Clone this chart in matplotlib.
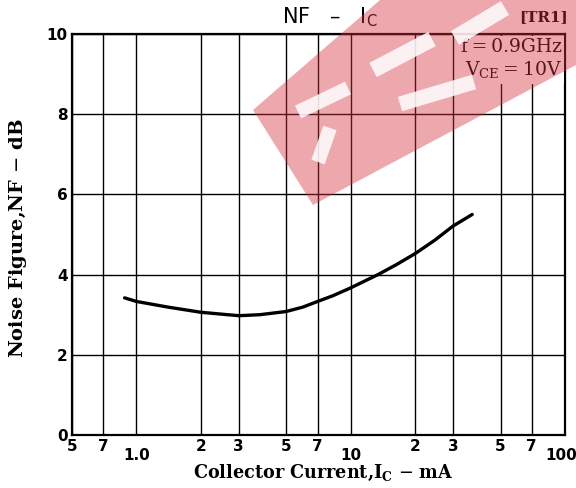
import numpy as np
import matplotlib
matplotlib.use('Agg')
import matplotlib.pyplot as plt
from matplotlib.patches import Polygon
from matplotlib.transforms import ScaledTranslation
from matplotlib.ticker import NullLocator

# NF vs Ic curve
ic = [0.88, 1.0, 1.40, 2.0, 3.0, 3.76, 5.0, 5.98, 7.0, 8.27, 10.0, 13.4, 16.35, 20.0, 24.7, 30.0, 36.9]
nf = [3.42, 3.33, 3.19, 3.06, 2.975, 3.0, 3.08, 3.19, 3.33, 3.475, 3.67, 4.0, 4.25, 4.525, 4.86, 5.21, 5.50]

xticks = [0.5, 0.7, 1, 2, 3, 5, 7, 10, 20, 30, 50, 70, 100]
xlabels = ['5', '7', '1.0', '2', '3', '5', '7', '10', '2', '3', '5', '7', '100']
yticks = [0, 2, 4, 6, 8, 10]

W, H = 576, 488
fig = plt.figure(figsize=(W / 100, H / 100), dpi=100)
ax = fig.add_axes([72 / W, 1 - 435 / H, 493 / W, 401 / H])

ax.set_xscale('log')
ax.set_xlim(0.5, 100)
ax.set_ylim(0, 10)
ax.set_xticks(xticks, xlabels)
ax.xaxis.set_minor_locator(NullLocator())
ax.set_yticks(yticks)
ax.tick_params(length=0, labelsize=11, pad=3)
for lab in ax.get_xticklabels() + ax.get_yticklabels():
    lab.set_fontweight('bold')
# decade labels sit a little lower in the original
for lab, t in zip(ax.get_xticklabels(), xticks):
    if t in (1, 10, 100):
        dx = -3 / 72 if t == 100 else 0
        lab.set_transform(lab.get_transform() + ScaledTranslation(dx, -6 / 72, fig.dpi_scale_trans))
ax.grid(True, color='black', lw=1.0)
for s in ax.spines.values():
    s.set_linewidth(1.6)

ax.plot(ic, nf, color='black', lw=2.4, solid_capstyle='round', zorder=3)

ax.set_xlabel(r'Collector Current,I$_\mathregular{C}$ $-$ mA', family='DejaVu Serif',
              fontweight='bold', fontsize=12.7, va='center')
ax.xaxis.set_label_coords(0.51, -(473 - 435) / 401)
ax.set_ylabel(r'Noise Figure,NF $-$ dB', family='DejaVu Serif',
              fontweight='bold', fontsize=14, va='center')
ax.yaxis.set_label_coords(-(72 - 18) / 493, 0.49)

ax.text(0.993, 0.99, 'f\u2009=\u20090.9GHz\nV$_\\mathregular{CE}$\u2009=\u200910V', transform=ax.transAxes,
        ha='right', va='top', family='DejaVu Serif', fontsize=13.5, linespacing=1.25,
        multialignment='right', zorder=4,
        bbox=dict(fc='white', ec='none', pad=2))

fig.text(330 / W, 1 - 17 / H, 'NF   \u2013   I$_\\mathregular{C}$', ha='center', va='center',
         fontsize=15, family='DejaVu Sans')
fig.text(568 / W, 1 - 17 / H, '[TR1]', ha='right', va='center', fontsize=11,
         family='DejaVu Serif', fontweight='bold')


# scanned watermark
def px(pts):
    return [(x / W, 1 - y / H) for x, y in pts]


def bar(p0, p1, w):
    p0, p1 = np.array(p0, float), np.array(p1, float)
    d = p1 - p0
    n = np.array([-d[1], d[0]]) / np.hypot(*d) * w / 2
    return [tuple(p0 + n), tuple(p1 + n), tuple(p1 - n), tuple(p0 - n)]


band = Polygon(px([(253, 110), (313, 205), (576, 65), (576, 0), (380, 0)]),
               closed=True, transform=fig.transFigure, fc='#d6303c', ec='none',
               alpha=0.42, zorder=5)
fig.add_artist(band)
for p0, p1, w in [((373, 70), (432, 39), 16), ((400, 104), (474, 82), 15),
                  ((298, 112), (348, 88), 14), ((318, 162), (330, 128), 14),
                  ((455, 38), (505, 8), 16)]:
    fig.add_artist(Polygon(px(bar(p0, p1, w)), closed=True, transform=fig.transFigure,
                           fc='white', ec='none', alpha=0.85, zorder=6))

fig.savefig('out.png', dpi=100)
